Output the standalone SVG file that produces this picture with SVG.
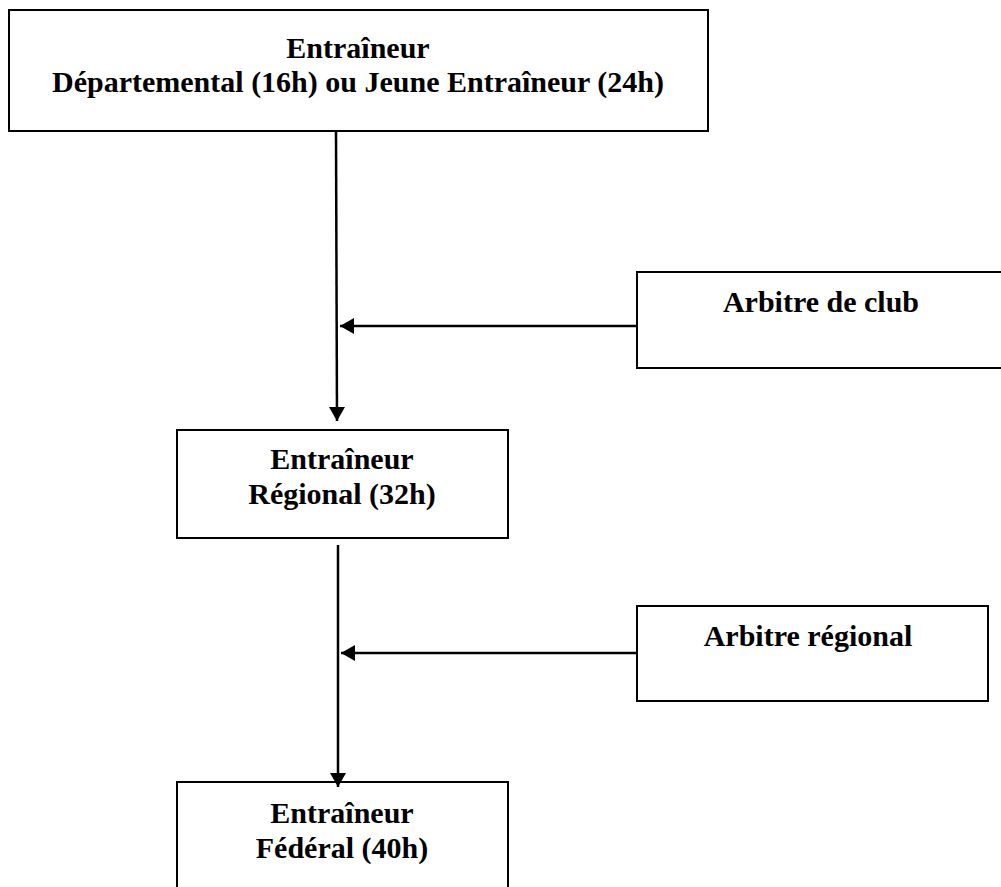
<svg xmlns="http://www.w3.org/2000/svg" width="1001" height="887" viewBox="0 0 1001 887">
<style>
.box{fill:#fff;stroke:#000;stroke-width:2}
.t{font-family:"Liberation Serif","Times New Roman",serif;font-weight:bold;font-size:30px;fill:#000;text-anchor:middle}
.c{stroke:#000;stroke-width:2.5;fill:none}
</style>
<defs>
<marker id="ah" viewBox="0 0 14 16" refX="14" refY="8" markerWidth="14" markerHeight="16" markerUnits="userSpaceOnUse" orient="auto">
<path d="M0,0 L14,8 L0,16 Z" fill="#000"/>
</marker>
</defs>
<rect width="1001" height="887" fill="#fff"/>
<g id="node-departemental">
<rect class="box" x="9" y="10" width="699" height="121"/>
<text class="t" x="358" y="58">Entraîneur</text>
<text class="t" x="358" y="92">Départemental (16h) ou Jeune Entraîneur (24h)</text>
</g>
<g id="node-arbitre-club">
<rect class="box" x="637" y="272" width="380" height="96"/>
<text class="t" x="821" y="312">Arbitre de club</text>
</g>
<g id="node-regional">
<rect class="box" x="177" y="430" width="331" height="108"/>
<text class="t" x="342" y="469">Entraîneur</text>
<text class="t" x="342" y="504">Régional (32h)</text>
</g>
<g id="node-arbitre-regional">
<rect class="box" x="637" y="606" width="351" height="95"/>
<text class="t" x="808" y="646">Arbitre régional</text>
</g>
<g id="node-federal">
<rect class="box" x="177" y="782" width="331" height="120"/>
<text class="t" x="342" y="823">Entraîneur</text>
<text class="t" x="342" y="858">Fédéral (40h)</text>
</g>
<g id="connectors">
<line class="c" x1="336" y1="131" x2="337" y2="421" marker-end="url(#ah)"/>
<line class="c" x1="637" y1="326" x2="340" y2="326" marker-end="url(#ah)"/>
<line class="c" x1="338" y1="545" x2="338" y2="787" marker-end="url(#ah)"/>
<line class="c" x1="637" y1="653" x2="341" y2="653" marker-end="url(#ah)"/>
</g>
</svg>
